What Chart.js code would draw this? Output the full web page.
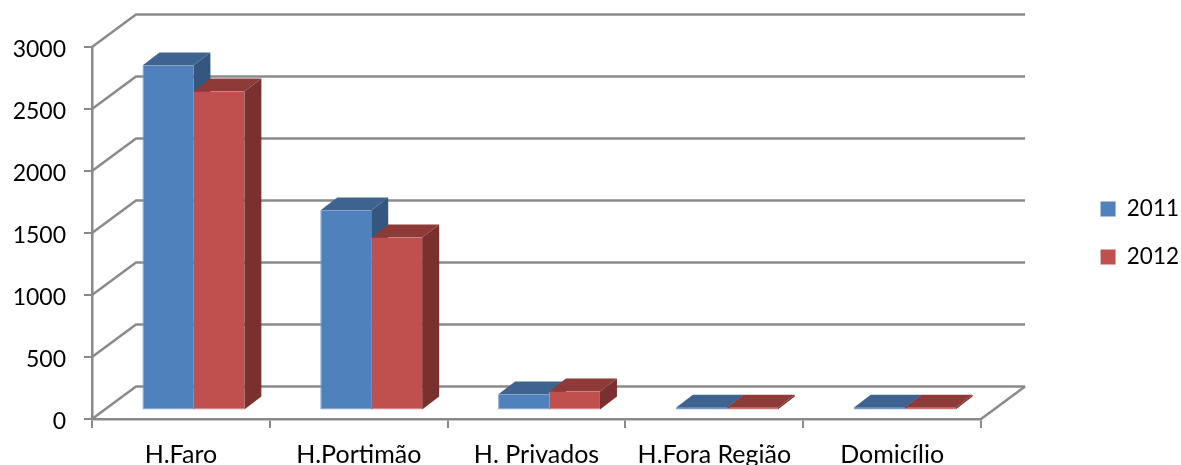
<!DOCTYPE html>
<html>
<head>
<meta charset="utf-8">
<script src="https://cdn.jsdelivr.net/npm/chart.js@4"></script>
<style>
  html, body { margin: 0; padding: 0; background: #fff; overflow: hidden; }
  canvas { display: block; }
</style>
</head>
<body>
<canvas id="grafico" width="1181" height="465"></canvas>
<script>
const categorias = ['H.Faro', 'H.Portimão', 'H. Privados', 'H.Fora Região', 'Domicílio'];
const valores2011 = [2782, 1613, 129, 22, 22];
const valores2012 = [2573, 1395, 153, 22, 22];

const corLinha = '#8a8a8a';

// cores de cada face das barras: frente, rebordo, topo, lado
const faces = {
    '2011': { frente: '#4f81bd', rebordo: '#7ea5d6', topo: '#3e6390', lado: '#34567f' },
    '2012': { frente: '#c0504d', rebordo: '#d98482', topo: '#8e3a38', lado: '#7a302e' }
};

// rebordo claro so a esquerda e em baixo
const rebordoFrente = { left: 1, bottom: 1, top: 0, right: 0 };

// profundidade da parede e das barras
const paredeDx = 44, paredeDy = -32.5;
const barraDx = 17, barraDy = -13;
const desvioX = 12.5, desvioY = -8.5;

const efeito3d = {
    id: 'efeito3d',

    // a legenda fica mais a direita e mais acima, como no original
    afterLayout(chart) {
        chart.legend.left += 8;
        chart.legend.right += 8;
        chart.legend.top -= 23;
        chart.legend.bottom -= 23;
    },

    beforeDatasetsDraw(chart) {
        const { ctx, scales: { x, y } } = chart;
        ctx.save();

        // paredes e linhas de grelha, a partir da escala y
        ctx.strokeStyle = corLinha;
        ctx.lineWidth = 2.5;
        y.ticks.forEach(t => {
            const py = y.getPixelForValue(t.value);
            ctx.beginPath();
            ctx.moveTo(x.left, py);
            ctx.lineTo(x.left + paredeDx, py + paredeDy);
            ctx.lineTo(x.right + paredeDx, py + paredeDy);
            ctx.stroke();
        });
        const py0 = y.getPixelForValue(0);
        ctx.beginPath();
        ctx.moveTo(x.right, py0);
        ctx.lineTo(x.right + paredeDx, py0 + paredeDy);
        ctx.stroke();

        // topo e lado das barras, 2011 primeiro para 2012 ficar por cima
        ctx.translate(desvioX, desvioY);
        chart.data.datasets.forEach((ds, i) => {
            const cores = faces[ds.label];
            chart.getDatasetMeta(i).data.forEach(bar => {
                const esq = bar.x - bar.width / 2;
                const dir = bar.x + bar.width / 2;
                ctx.fillStyle = cores.lado;
                ctx.beginPath();
                ctx.moveTo(dir, bar.y);
                ctx.lineTo(dir + barraDx, bar.y + barraDy);
                ctx.lineTo(dir + barraDx, bar.base + barraDy);
                ctx.lineTo(dir, bar.base);
                ctx.closePath();
                ctx.fill();
                ctx.fillStyle = cores.topo;
                ctx.beginPath();
                ctx.moveTo(esq, bar.y);
                ctx.lineTo(esq + barraDx, bar.y + barraDy);
                ctx.lineTo(dir + barraDx, bar.y + barraDy);
                ctx.lineTo(dir, bar.y);
                ctx.closePath();
                ctx.fill();
            });
        });
        ctx.restore();
    },

    // a frente das barras e desenhada pela biblioteca, so deslocada
    beforeDatasetDraw(chart) {
        chart.ctx.save();
        chart.ctx.translate(desvioX, desvioY);
    },

    afterDatasetDraw(chart) {
        chart.ctx.restore();
    }
};

new Chart(document.getElementById('grafico'), {
    type: 'bar',
    data: {
        labels: categorias,
        datasets: [
            { label: '2011', data: valores2011, backgroundColor: faces['2011'].frente, borderColor: faces['2011'].rebordo, borderWidth: rebordoFrente, borderSkipped: false, clip: false },
            { label: '2012', data: valores2012, backgroundColor: faces['2012'].frente, borderColor: faces['2012'].rebordo, borderWidth: rebordoFrente, borderSkipped: false, clip: false }
        ]
    },
    options: {
        responsive: false,
        animation: false,
        events: [],
        layout: { padding: { top: 47 } },
        categoryPercentage: 0.573,
        barPercentage: 1,
        plugins: {
            tooltip: { enabled: false },
            legend: {
                position: 'right',
                labels: {
                    boxWidth: 15,
                    boxHeight: 15,
                    padding: 25.5,
                    color: '#000',
                    font: { family: 'Lato', size: 22.5 },
                    // caixas da legenda sem rebordo
                    generateLabels(chart) {
                        return Chart.defaults.plugins.legend.labels.generateLabels(chart)
                            .map(item => ({ ...item, lineWidth: 0 }));
                    }
                }
            }
        },
        scales: {
            x: {
                afterFit(s) { s.height = 46; },
                grid: { drawOnChartArea: false, color: corLinha, lineWidth: 2, tickLength: 9, offset: true },
                border: { color: corLinha, width: 2.5 },
                ticks: { color: '#000', padding: 12, maxRotation: 0, font: { family: 'Lato', size: 25 } }
            },
            y: {
                min: 0,
                max: 3000,
                afterFit(s) { s.width = 92; },
                grid: { drawOnChartArea: false, color: corLinha, lineWidth: 2, tickLength: 8 },
                border: { color: corLinha, width: 2.5 },
                ticks: {
                    stepSize: 500,
                    color: '#000',
                    padding: 18,
                    labelOffset: 3,
                    font: { family: 'Lato', size: 23 },
                    callback: v => String(v)
                }
            },
            // eixo vazio so para reservar espaco entre o grafico e a legenda
            folga: {
                position: 'right',
                afterFit(s) { s.width = 86; },
                grid: { display: false },
                border: { display: false },
                ticks: { display: false }
            }
        }
    },
    plugins: [efeito3d]
});
</script>
</body>
</html>
